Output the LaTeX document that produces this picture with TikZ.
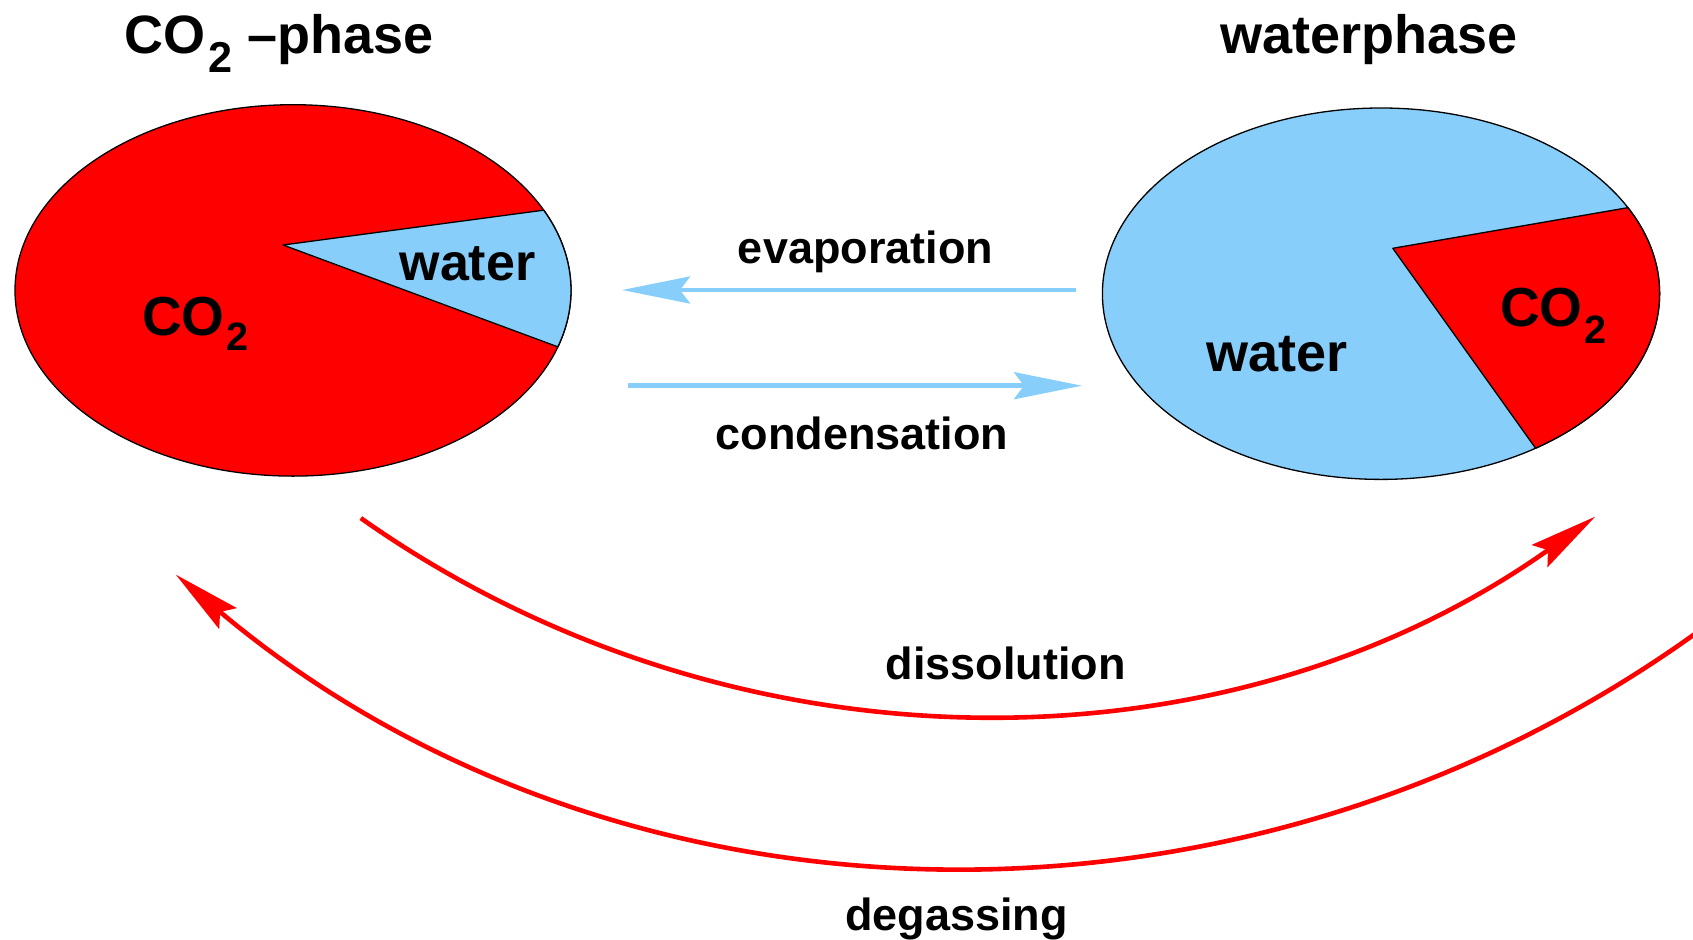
\documentclass[tikz,border=0pt]{standalone}
\usepackage{fontspec}
\setmainfont{Liberation Sans}
\usetikzlibrary{arrows.meta,shapes.geometric,calc}
\definecolor{skyb}{RGB}{135,206,250}
\definecolor{pred}{RGB}{255,0,0}
\newcommand\subtwo[2]{\kern0.04em\raisebox{-#1em}{\scalebox{#2}{2}}}
\begin{document}
\begin{tikzpicture}[x=1pt,y=1pt,
  phase/.style={ellipse, draw=black, line width=1.3pt, inner sep=0pt, outer sep=0pt},
  wedge/.style={draw=black, line width=1.3pt, line join=round},
  flow/.style={line width=4.6pt, -{Stealth[length=68pt, width=27pt, inset=10pt]}},
  ttl/.style={font=\fontsize{54}{60}\selectfont\bfseries, inner sep=0pt, anchor=base},
  pielbl/.style={font=\fontsize{54}{60}\selectfont\bfseries, inner sep=0pt, anchor=base},
  lbl/.style={font=\fontsize{45}{54}\selectfont\bfseries, inner sep=0pt, anchor=base}]
\useasboundingbox (0,0) rectangle (1693,-939);
\clip (0,0) rectangle (1693,-939);

% titles
\node[ttl] (t1) at (279,-54) {CO\subtwo{0.34}{0.8}\ --phase};
\node[ttl] (t2) at (1369,-54) {waterphase};

% left pie (CO2-phase)
\coordinate (lc) at (293,-290.4);
\coordinate (la) at (283,-245);
\node[phase, fill=pred, minimum width=556pt, minimum height=371.4pt] (co2pie) at (lc) {};
\filldraw[wedge, fill=skyb] (la) -- ($(lc)+(25.6:278 and 185.7)$)
  arc[start angle=25.6, end angle=-17.7, x radius=278, y radius=185.7] -- cycle;
\node[pielbl, font=\fontsize{52}{60}\selectfont\bfseries] (lw) at (467.5,-280.7) {water};
\node[pielbl, font=\fontsize{55}{60}\selectfont\bfseries] (lco) at (195.4,-335) {CO\subtwo{0.28}{0.72}};

% right pie (waterphase)
\coordinate (rc) at (1381,-293.7);
\coordinate (ra) at (1392.8,-248.3);
\node[phase, fill=skyb, minimum width=557.2pt, minimum height=371.4pt] (waterpie) at (rc) {};
\filldraw[wedge, fill=pred] (ra) -- ($(rc)+(27.6:278.6 and 185.7)$)
  arc[start angle=27.6, end angle=-56.3, x radius=278.6, y radius=185.7] -- cycle;
\node[pielbl] (rw) at (1277,-371.7) {water};
\node[pielbl, font=\fontsize{55}{60}\selectfont\bfseries] (rco) at (1553.4,-326.7) {CO\subtwo{0.3}{0.72}};

% horizontal flows
\coordinate (evR) at (1076,-290);
\coordinate (evL) at (622,-290);
\coordinate (cnL) at (628,-385.7);
\coordinate (cnR) at (1082,-385.7);
\draw[flow, skyb] (evR) -- (evL);
\draw[flow, skyb] (cnL) -- (cnR);
\node[lbl] (ev) at (865.5,-263) {evaporation};
\node[lbl] (cn) at (862,-449) {condensation};

% curved flows
\coordinate (dsS) at (360.8,-518.1);
\draw[flow, pred] (dsS) arc[start angle=-125.2, end angle=-54.66, radius=1069];
\coordinate (dgS) at (1701.4,-629.2);
\draw[flow, pred] (dgS) arc[start angle=-54, end angle=-130.1, radius=1238.5];
\node[lbl] (ds) at (1005.7,-679.5) {dissolution};
\node[lbl] (dg) at (956.6,-930.7) {degassing};
\end{tikzpicture}
\end{document}
